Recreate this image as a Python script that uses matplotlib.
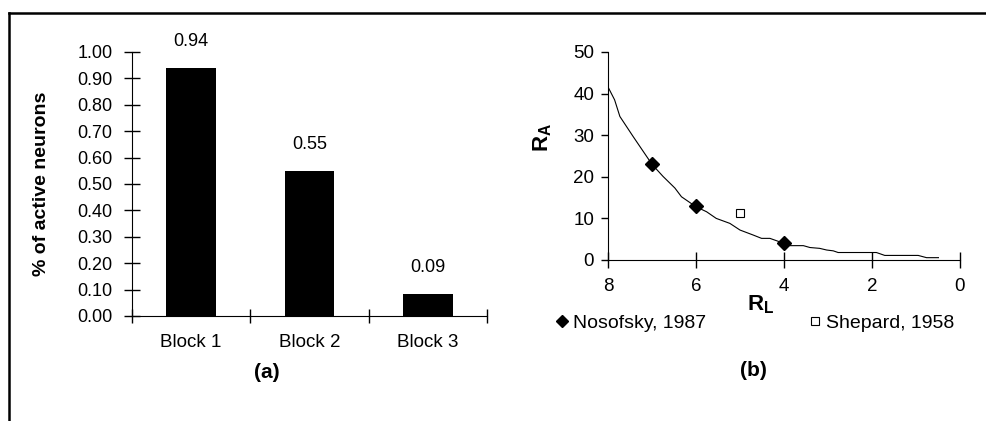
import matplotlib
matplotlib.use("Agg")
import matplotlib.pyplot as plt
from matplotlib.lines import Line2D

plt.rcParams['font.family'] = ['Liberation Sans', 'DejaVu Sans']
plt.rcParams['mathtext.fontset'] = 'custom'
plt.rcParams['mathtext.rm'] = 'Liberation Sans'
plt.rcParams['mathtext.bf'] = 'Liberation Sans:bold'

# ---- data panel (a)
blocks = ["Block 1", "Block 2", "Block 3"]
active = [0.94, 0.55, 0.085]
active_labels = ["0.94", "0.55", "0.09"]
yticks_a = [0.0, 0.1, 0.2, 0.3, 0.4, 0.5, 0.6, 0.7, 0.8, 0.9, 1.0]

# ---- data panel (b)
curve_rl = [8.0, 7.85, 7.73, 7.43, 7.0, 6.75, 6.48, 6.33, 6.0, 5.76, 5.54, 5.23,
            5.0, 4.70, 4.51, 4.32, 4.0, 3.87, 3.56, 3.41, 3.19, 3.03, 2.88, 2.77,
            1.90, 1.71, 0.95, 0.76, 0.49]
curve_ra = [41.6, 38.5, 34.5, 29.7, 23.0, 20.1, 17.3, 15.2, 12.8, 11.6, 10.0, 8.8,
            7.2, 6.0, 5.2, 5.2, 4.0, 3.45, 3.45, 3.0, 2.8, 2.4, 2.2, 1.8,
            1.8, 1.1, 1.1, 0.56, 0.56]
nosofsky_rl = [7, 6, 4]
nosofsky_ra = [23, 13, 4]
shepard_rl = [5]
shepard_ra = [11.2]
xticks_b = [8, 6, 4, 2, 0]
yticks_b = [0, 10, 20, 30, 40, 50]

W, H = 987, 421
fig = plt.figure(figsize=(W / 100, H / 100), dpi=100)

def fx(px):
    return px / W

def fy(py):
    return 1 - py / H

# border (top and left)
fig.add_artist(Line2D([fx(9), 1.0], [fy(13), fy(13)], color='black', lw=1.8))
fig.add_artist(Line2D([fx(9), fx(9)], [fy(13), 0.0], color='black', lw=1.8))

FS = 13
FSL = 14

# ---- panel (a)
ax_l, ax_r, ax_t, ax_b = 132, 487, 52, 316
axa = fig.add_axes([fx(ax_l), fy(ax_b), fx(ax_r) - fx(ax_l), fy(ax_t) - fy(ax_b)])
pos = list(range(len(blocks)))
axa.bar(pos, active, width=0.42, color='black')
for p, v, lab in zip(pos, active, active_labels):
    axa.annotate(lab, (p, v), xytext=(0, 26), textcoords='offset pixels',
                 ha='center', va='center', fontsize=FS)
axa.set_xlim(-0.5, 2.5)
axa.set_ylim(0, 1.0)
axa.set_yticks(yticks_a)
axa.set_yticklabels([f"{t:.2f}" for t in yticks_a], fontsize=FS)
axa.set_xticks([-0.5, 0.5, 1.5, 2.5])
axa.set_xticklabels([])
axa.set_xticks(pos, minor=True)
axa.set_xticklabels(blocks, minor=True, fontsize=13.5)
axa.tick_params(axis='x', which='minor', length=0, pad=13)
axa.tick_params(axis='x', which='major', direction='inout', length=10, width=1)
axa.tick_params(axis='y', direction='inout', length=12, width=1, pad=8)
for s in ['top', 'right']:
    axa.spines[s].set_visible(False)
axa.set_ylabel("% of active neurons", fontsize=FSL, fontweight='bold')
axa.yaxis.set_label_coords((50 - ax_l) / (ax_r - ax_l), 0.5)
fig.text(fx(267), fy(373), "(a)", ha='center', va='center', fontsize=15,
         fontweight='bold')

# ---- panel (b)
bx_l, bx_r, bx_t, bx_b = 608, 960, 52, 260
axb = fig.add_axes([fx(bx_l), fy(bx_b), fx(bx_r) - fx(bx_l), fy(bx_t) - fy(bx_b)])
axb.plot(curve_rl, curve_ra, color='black', lw=0.8)
h1, = axb.plot(nosofsky_rl, nosofsky_ra, linestyle='none', marker='D', color='black',
               markersize=7, label="Nosofsky, 1987")
h2, = axb.plot(shepard_rl, shepard_ra, linestyle='none', marker='s',
               markerfacecolor='white', markeredgecolor='black',
               markeredgewidth=0.8, markersize=6, label="Shepard, 1958")
axb.set_xlim(8, 0)
axb.set_ylim(0, 50)
axb.set_xticks(xticks_b)
axb.set_xticklabels([str(t) for t in xticks_b], fontsize=13.5)
axb.set_yticks(yticks_b)
axb.set_yticklabels([str(t) for t in yticks_b], fontsize=13.5)
axb.tick_params(axis='x', direction='inout', length=12, width=1, pad=7)
axb.tick_params(axis='y', direction='out', length=5, width=1, pad=5)
for s in ['top', 'right']:
    axb.spines[s].set_visible(False)
axb.set_xlabel(r"$\mathbf{R_L}$", fontsize=16)
axb.xaxis.set_label_coords((761 - bx_l) / (bx_r - bx_l), -(305 - bx_b) / (bx_b - bx_t))
axb.xaxis.label.set_va('center')
axb.set_ylabel(r"$\mathbf{R_A}$", fontsize=16)
axb.yaxis.set_label_coords((543 - bx_l) / (bx_r - bx_l), (bx_b - 137) / (bx_b - bx_t))
axb.yaxis.label.set_va('center')

leg1 = axb.legend(handles=[h1], loc='center left', bbox_to_anchor=(fx(556), fy(323)),
                  bbox_transform=fig.transFigure, frameon=False, fontsize=FSL,
                  handlelength=0.6, handletextpad=0.25, borderpad=0, borderaxespad=0,
                  markerscale=0.85)
axb.add_artist(leg1)
axb.legend(handles=[h2], loc='center left', bbox_to_anchor=(fx(809), fy(323)),
           bbox_transform=fig.transFigure, frameon=False, fontsize=FSL,
           handlelength=0.6, handletextpad=0.25, borderpad=0, borderaxespad=0,
           markerscale=1.0)
fig.text(fx(753), fy(370), "(b)", ha='center', va='center', fontsize=15,
         fontweight='bold')

fig.savefig("out.png", dpi=100)
